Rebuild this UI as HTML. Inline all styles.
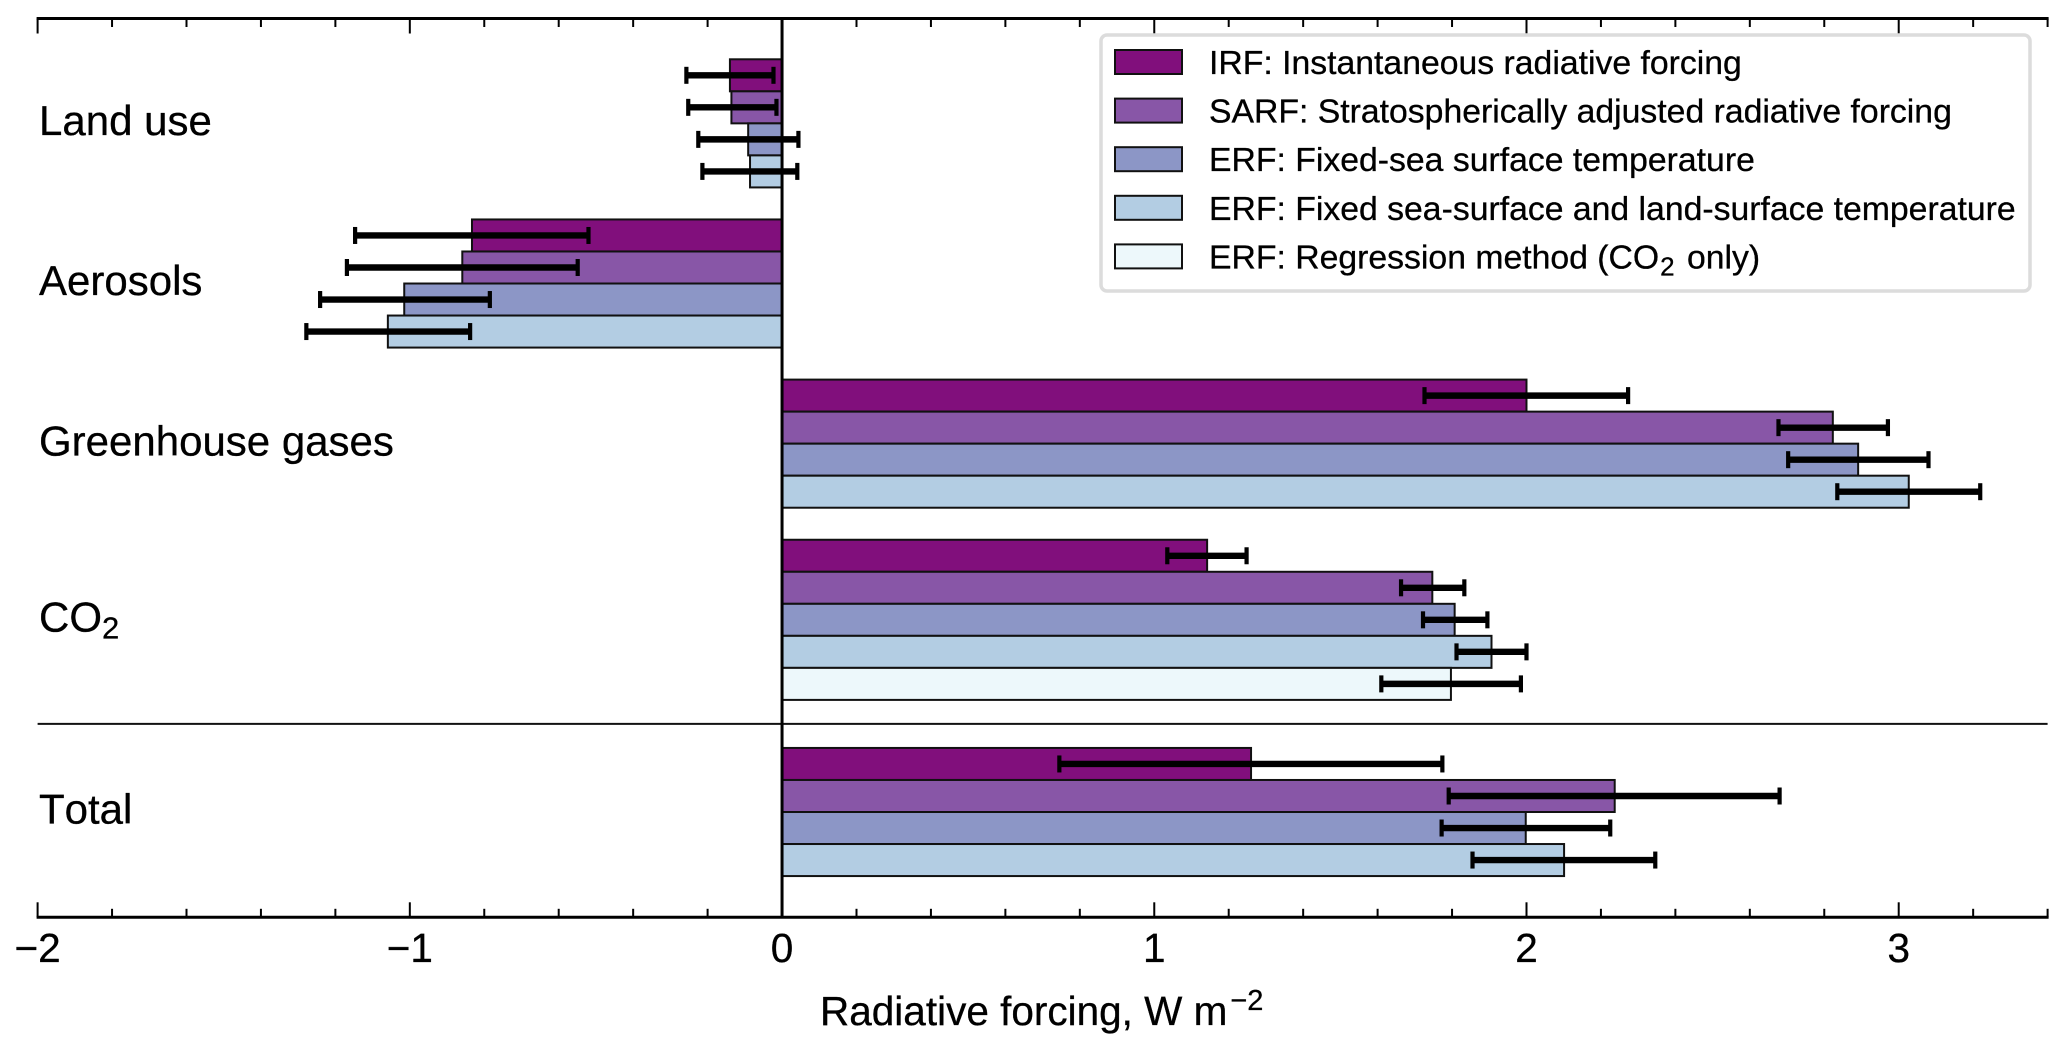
<!DOCTYPE html>
<html lang="en">
<head>
<meta charset="utf-8">
<title>Radiative forcing by method</title>
<style>
  html, body { margin: 0; padding: 0; background: #fff; }
  svg { display: block; font-family: "Liberation Sans", Arial, sans-serif; fill: #000; }
  text { font-kerning: none; stroke: #000; stroke-width: 0.3px; }
</style>
</head>
<body>
<svg id="chart" xmlns="http://www.w3.org/2000/svg" width="2067" height="1052" viewBox="0 0 2067 1052">
  <rect x="0" y="0" width="2067" height="1052" fill="#ffffff"/>
  <g id="bars"></g>
  <g id="errors"></g>
  <g id="axes"></g>
  <g id="labels"></g>
  <text x="820" y="1025" font-size="40.5">Radiative forcing, W m<tspan font-size="29" dx="3" dy="-15">−2</tspan></text>

  <g>
    <rect x="1101" y="35" width="929" height="256" rx="6" ry="6" fill="#ffffff" stroke="#dcdcdc" stroke-width="3.5"/>
    <g>
      <rect x="1115" y="50" width="67" height="24" fill="#810f7c" stroke="#111" stroke-width="2"/>
      <text x="1209" y="74" font-size="33.75">IRF: Instantaneous radiative forcing</text>
    </g>
    <g>
      <rect x="1115" y="98.6" width="67" height="24" fill="#8856a7" stroke="#111" stroke-width="2"/>
      <text x="1209" y="122.6" font-size="33.75">SARF: Stratospherically adjusted radiative forcing</text>
    </g>
    <g>
      <rect x="1115" y="147.2" width="67" height="24" fill="#8c96c6" stroke="#111" stroke-width="2"/>
      <text x="1209" y="171.2" font-size="33.75">ERF: Fixed-sea surface temperature</text>
    </g>
    <g>
      <rect x="1115" y="195.8" width="67" height="24" fill="#b3cde3" stroke="#111" stroke-width="2"/>
      <text x="1209" y="219.8" font-size="33.75">ERF: Fixed sea-surface and land-surface temperature</text>
    </g>
    <g>
      <rect x="1115" y="244.4" width="67" height="24" fill="#edf8fb" stroke="#111" stroke-width="2"/>
      <text x="1209" y="268.4" font-size="33.75">ERF: Regression method (CO<tspan font-size="26" dx="1" dy="7">2</tspan><tspan dx="3" dy="-7"> only)</tspan></text>
    </g>
  </g>
</svg>

<script>
// ---- data (W m-2), order of categories top to bottom ----
const categories = ['Land use', 'Aerosols', 'Greenhouse gases', 'CO2', 'Total'];
const methods = ['irf', 'sarf', 'erf-fixed-sst', 'erf-fixed-sst-lst', 'erf-regression'];
const methodColors = ['#810f7c', '#8856a7', '#8c96c6', '#b3cde3', '#edf8fb'];

const irfValues   = [-0.140, -0.833, 2.000, 1.142, 1.260];
const irfLow      = [-0.257, -1.147, 1.726, 1.035, 0.745];
const irfHigh     = [-0.023, -0.520, 2.273, 1.248, 1.774];

const sarfValues  = [-0.136, -0.859, 2.823, 1.747, 2.237];
const sarfLow     = [-0.252, -1.169, 2.677, 1.663, 1.791];
const sarfHigh    = [-0.015, -0.549, 2.971, 1.833, 2.680];

const erfSstValues = [-0.091, -1.015, 2.891, 1.807, 1.998];
const erfSstLow    = [-0.225, -1.241, 2.703, 1.722, 1.772];
const erfSstHigh   = [ 0.044, -0.785, 3.080, 1.895, 2.225];

const erfLstValues = [-0.086, -1.059, 3.027, 1.906, 2.101];
const erfLstLow    = [-0.214, -1.278, 2.835, 1.812, 1.855];
const erfLstHigh   = [ 0.041, -0.838, 3.219, 2.000, 2.346];

const erfRegValues = [null, null, null, 1.797, null];
const erfRegLow    = [null, null, null, 1.610, null];
const erfRegHigh   = [null, null, null, 1.985, null];

const majorTickValues = [-2, -1, 0, 1, 2, 3];
const majorTickLabels = ['−2', '−1', '0', '1', '2', '3'];
const xDomain = [-2, 3.4];

// ---- scales ----
const NS = 'http://www.w3.org/2000/svg';
const plotLeft = 37.6, plotRight = 2047.6, plotTop = 18.5, plotBottom = 917.3;
function xScale(v) {
  return plotLeft + (v - xDomain[0]) * (plotRight - plotLeft) / (xDomain[1] - xDomain[0]);
}
const firstBarTop = 59.3, slotHeight = 32.03;
function slotTop(slot) { return firstBarTop + slot * slotHeight; }

function make(tag, attrs, parent) {
  const el = document.createElementNS(NS, tag);
  for (const k in attrs) el.setAttribute(k, attrs[k]);
  parent.appendChild(el);
  return el;
}

const barsLayer = document.getElementById('bars');
const errorsLayer = document.getElementById('errors');
const axesLayer = document.getElementById('axes');
const labelsLayer = document.getElementById('labels');

const valueSeries = [irfValues, sarfValues, erfSstValues, erfLstValues, erfRegValues];
const lowSeries = [irfLow, sarfLow, erfSstLow, erfLstLow, erfRegLow];
const highSeries = [irfHigh, sarfHigh, erfSstHigh, erfLstHigh, erfRegHigh];

// ---- bars, error bars and category labels ----
let slot = 0;
categories.forEach(function (cat, c) {
  const startSlot = slot;
  valueSeries.forEach(function (series, m) {
    const v = series[c];
    if (v === null) return;
    const top = slotTop(slot);
    const x0 = xScale(Math.min(0, v));
    const x1 = xScale(Math.max(0, v));
    const bar = make('rect', { x: x0, y: top, width: x1 - x0, height: slotHeight, fill: methodColors[m], stroke: '#111', 'stroke-width': 2 }, barsLayer);
    
    

    const cy = top + slotHeight / 2;
    const xl = xScale(lowSeries[m][c]);
    const xh = xScale(highSeries[m][c]);
    const err = make('g', { stroke: '#000', fill: 'none' }, errorsLayer);
    
    
    make('line', { x1: xl, x2: xh, y1: cy, y2: cy, 'stroke-width': 6.4 }, err);
    make('line', { x1: xl, x2: xl, y1: cy - 8.5, y2: cy + 8.5, 'stroke-width': 4.2 }, err);
    make('line', { x1: xh, x2: xh, y1: cy - 8.5, y2: cy + 8.5, 'stroke-width': 4.2 }, err);
    slot += 1;
  });
  const centre = (slotTop(startSlot) + slotTop(slot)) / 2;
  const label = make('text', { x: 39, y: centre + 11.6, 'font-size': 42 }, labelsLayer);
  
  
  if (cat === 'CO2') {
    label.appendChild(document.createTextNode('CO'));
    const sub = make('tspan', { 'font-size': 31, dy: 7 }, label);
    
    
    sub.textContent = '2';
  } else {
    label.textContent = cat;
  }
  // one empty slot between groups; an extra half slot around the separator before Total
  slot += (c === categories.length - 2) ? 1.5 : 1;
  if (c === categories.length - 2) {
    const sepY = slotTop(slot - 0.75);
    const sep = make('line', { x1: plotLeft, x2: plotRight, y1: sepY, y2: sepY, stroke: '#111', 'stroke-width': 2 }, barsLayer);
    
    
  }
});

// ---- axes ----
const zeroLine = make('line', { x1: xScale(0), x2: xScale(0), y1: plotTop, y2: plotBottom, stroke: '#000', 'stroke-width': 3 }, axesLayer);



const topAxis = make('line', { x1: plotLeft - 1, x2: plotRight + 1, y1: plotTop, y2: plotTop, stroke: '#000', 'stroke-width': 3 }, axesLayer);



const bottomAxis = make('line', { x1: plotLeft - 1, x2: plotRight + 1, y1: plotBottom, y2: plotBottom, stroke: '#000', 'stroke-width': 3 }, axesLayer);



for (let i = 0; i <= 27; i++) {
  const v = xDomain[0] + i * 0.2;
  const isMajor = i % 5 === 0;
  const len = isMajor ? 15 : 8.5;
  const tb = make('line', { x1: xScale(v), x2: xScale(v), y1: plotBottom, y2: plotBottom - len, stroke: '#000', 'stroke-width': 2 }, axesLayer);
  
  
  const tt = make('line', { x1: xScale(v), x2: xScale(v), y1: plotTop, y2: plotTop + len, stroke: '#000', 'stroke-width': 2 }, axesLayer);
  
  
}

majorTickValues.forEach(function (v, i) {
  const t = make('text', { x: xScale(v), y: 962, 'font-size': 40.5, 'text-anchor': 'middle' }, axesLayer);
  
  
  t.textContent = majorTickLabels[i];
});
</script>
</body>
</html>
